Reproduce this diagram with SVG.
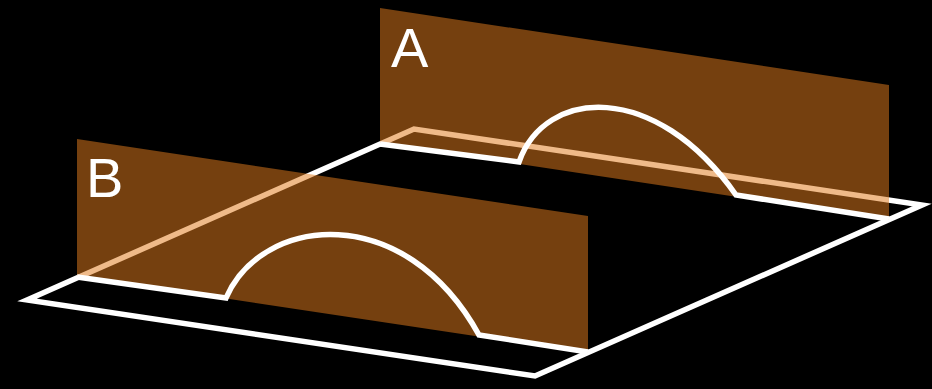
<svg xmlns="http://www.w3.org/2000/svg" width="932" height="389" viewBox="0 0 932 389">
  <style>
    .line { fill: none; stroke: #ffffff; stroke-width: 5.5; stroke-linejoin: miter; stroke-miterlimit: 6; }
    .plane { fill: rgb(224,122,28); fill-opacity: 0.52; stroke: none; }
    .label { font-family: "Liberation Sans", Arial, sans-serif; font-size: 56px; fill: #ffffff; }
  </style>
  <rect x="0" y="0" width="932" height="389" fill="#000000"/>
  <g id="floor">
    <polygon class="line" points="27,300 414,129 922,205 535,376"/>
  </g>
  <g id="plane-A">
    <polygon class="plane" points="380,8 889,85 889,220 380,143"/>
    <text class="label" x="391" y="67">A</text>
  </g>
  <g id="plane-B">
    <polygon class="plane" points="77,139 588,216 588,353 77,276"/>
    <text class="label" x="86" y="197">B</text>
  </g>
  <g id="connectors">
    <path class="line" d="M380,144 L519,162 C545,88 655,80 736,195 L889,219"/>
    <path class="line" d="M77,277 L226,298 C262,215 405,200 479,335 L588,352"/>
  </g>
</svg>
